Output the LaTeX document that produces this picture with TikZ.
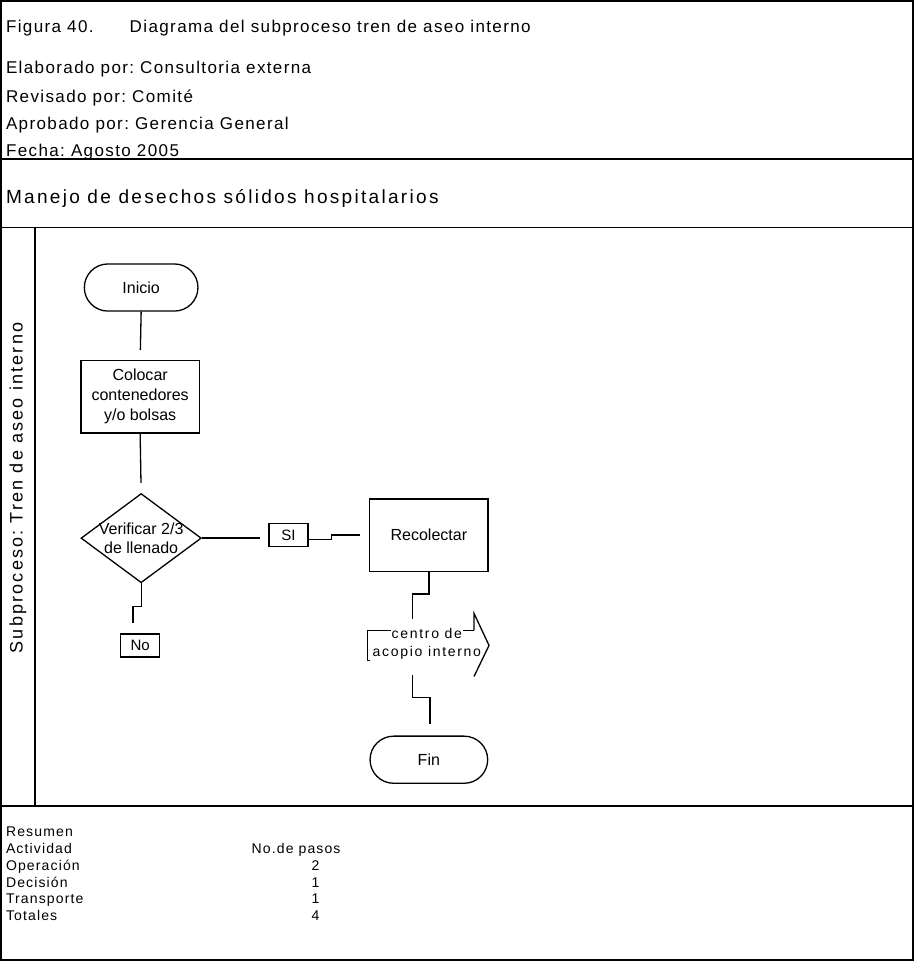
\documentclass[tikz,border=0pt]{standalone}
\usepackage{fontspec}
\setmainfont{Liberation Sans}
\newfontfamily\wide{Liberation Sans}[LetterSpace=8]
\newfontfamily\wider{Liberation Sans}[LetterSpace=12]
\usetikzlibrary{shapes.geometric,shapes.misc}
\frenchspacing

\begin{document}
\begin{tikzpicture}[x=1pt,y=-1pt,
    frame/.style={line width=1.6pt},
    txt/.style={anchor=base west, inner sep=0pt, font=\wide\fontsize{17}{20}\selectfont},
    sumtxt/.style={anchor=base west, inner sep=0pt, font=\wide\fontsize{14}{16}\selectfont},
    activity/.style={draw, rectangle, line width=1.3pt, minimum width=118pt, minimum height=72pt,
      align=center, font=\fontsize{16}{20}\selectfont},
    terminal/.style={draw, rounded rectangle, line width=1.3pt, minimum width=120pt, minimum height=47pt,
      font=\fontsize{16}{20}\selectfont},
    decision/.style={draw, diamond, line width=1.3pt, minimum width=120pt, minimum height=89pt, inner sep=0pt},
    answer/.style={draw, rectangle, line width=1.3pt, minimum width=39pt, minimum height=23pt, inner sep=0pt,
      font=\fontsize{15}{18}\selectfont},
    link/.style={line width=1.3pt}]

  % Outer frame and header rows
  \draw[frame] (3,2) rectangle (913,959);
  \draw[frame] (3,160) -- (913,160);
  \draw[frame] (3,228) -- (913,228);
  \draw[frame] (37,228) -- (37,805);
  \draw[frame] (3,805) -- (913,805);

  % Header texts
  \node[txt] (title) at (8,34) {Figura 40.\hspace{36pt}Diagrama del subproceso tren de aseo interno};
  \node[txt] (autor) at (8,75) {Elaborado por: Consultoria externa};
  \node[txt] (revision) at (8,103) {Revisado por: Comité};
  \node[txt] (aprobacion) at (8,130) {Aprobado por: Gerencia General};
  \node[txt] (fecha) at (8,157) {Fecha: Agosto 2005};
  \node[txt, font=\wider\fontsize{19}{22}\selectfont] (proceso) at (8,204) {Manejo de desechos sólidos hospitalarios};

  % Swimlane title
  \node[rotate=90, inner sep=0pt, font=\wider\fontsize{18}{20}\selectfont] (carril) at (20,488)
    {Subproceso: Tren de aseo interno};

  % Flow nodes
  \node[terminal] (inicio) at (143,288) {Inicio};
  \node[activity] (colocar) at (142,397) {Colocar\\contenedores\\y/o bolsas};
  \node[decision, label={[font=\fontsize{16}{19}\selectfont, align=center]center:Verificar 2/3\\de llenado}]
    (verif) at (143,538) {};
  \node[answer] (si) at (290,535) {SI};
  \node[answer] (no) at (142,645) {No};
  \node[activity] (recolectar) at (430,535) {Recolectar};
  \node[terminal, minimum width=124pt] (fin) at (430,759) {Fin};

  % Transport arrow: body under the text, head on top
  \coordinate (acopio) at (428,644);
  \draw[link] (475,630) -- (369,630) -- (369,660) -- (475,660);
  \node[align=center, inner sep=0pt, font=\wider\fontsize{14}{18}\selectfont] (acopiotxt) at (acopio)
    {\setlength{\fboxsep}{1pt}\colorbox{white}{centro de}\\\colorbox{white}{acopio interno}};
  \draw[link] (475,630) -- (475,613) -- (490,645) -- (475,676);

  % Connectors
  \draw[link, shorten >=10pt] (inicio.south) -- (colocar.north);
  \draw[link, shorten >=10pt] (colocar.south) -- (verif.north);
  \draw[link, shorten >=8pt] (verif.east) -- (verif.east -| si.west);
  \draw[link, shorten >=9pt] ([yshift=-4pt]si.east) -- ++(23,0) |- (recolectar.west);
  \draw[link] (verif.south) -- ++(0,23) -| ([xshift=-7pt,yshift=10pt]no.north);
  \draw[link] (recolectar.south) -- ++(0,22) -| ([xshift=-14pt,yshift=25pt]acopio);
  \draw[link] ([xshift=-14pt,yshift=-31pt]acopio) -- ++(0,22) -| ([xshift=1pt,yshift=11pt]fin.north);

  % Summary table
  \node[sumtxt] (resumen) at (8,836) {Resumen};
  \node[sumtxt] (actividad) at (8,853) {Actividad};
  \node[sumtxt] (pasos) at (253,853) {No.de pasos};
  \node[sumtxt] (operacion) at (8,870) {Operación};
  \node[sumtxt] (decision) at (8,886) {Decisión};
  \node[sumtxt] (transporte) at (8,902) {Transporte};
  \node[sumtxt] (totales) at (8,919) {Totales};
  \node[sumtxt, anchor=base] (n1) at (317,870) {2};
  \node[sumtxt, anchor=base] (n2) at (317,886) {1};
  \node[sumtxt, anchor=base] (n3) at (317,902) {1};
  \node[sumtxt, anchor=base] (n4) at (317,919) {4};
\end{tikzpicture}
\end{document}
